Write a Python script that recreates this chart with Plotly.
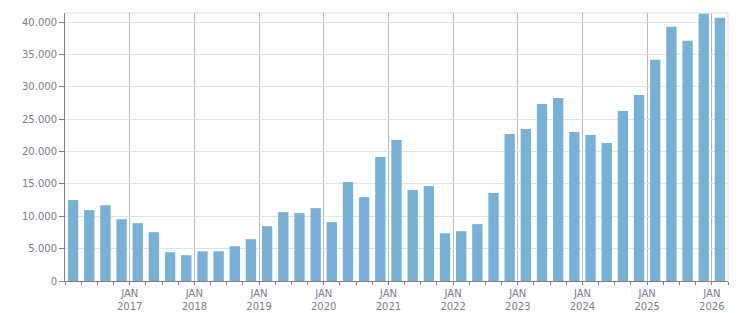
import plotly.graph_objects as go

quarters = [
    "2016-Q1", "2016-Q2", "2016-Q3", "2016-Q4",
    "2017-Q1", "2017-Q2", "2017-Q3", "2017-Q4",
    "2018-Q1", "2018-Q2", "2018-Q3", "2018-Q4",
    "2019-Q1", "2019-Q2", "2019-Q3", "2019-Q4",
    "2020-Q1", "2020-Q2", "2020-Q3", "2020-Q4",
    "2021-Q1", "2021-Q2", "2021-Q3", "2021-Q4",
    "2022-Q1", "2022-Q2", "2022-Q3", "2022-Q4",
    "2023-Q1", "2023-Q2", "2023-Q3", "2023-Q4",
    "2024-Q1", "2024-Q2", "2024-Q3", "2024-Q4",
    "2025-Q1", "2025-Q2", "2025-Q3", "2025-Q4",
    "2026-Q1",
]
values = [
    12500, 10950, 11700, 9550,
    8930, 7540, 4440, 3980,
    4600, 4600, 5370, 6460,
    8470, 10630, 10480, 11250,
    9090, 15280, 12960, 19150,
    21780, 14040, 14660, 7380,
    7690, 8780, 13580, 22710,
    23480, 27350, 28280, 23020,
    22550, 21320, 26270, 28750,
    34160, 39270, 37100, 41280,
    40670,
]
tick_years = [2017, 2018, 2019, 2020, 2021, 2022, 2023, 2024, 2025, 2026]
tick_labels = ["JAN<br>%d" % y for y in tick_years]
y_ticks = [0, 5000, 10000, 15000, 20000, 25000, 30000, 35000, 40000]

# quarter midpoints in fractional years
x_pos = [int(q[:4]) + (int(q[-1]) - 0.5) / 4 for q in quarters]

label_color = "#7a7a92"
font_family = "DejaVu Sans, Liberation Sans, sans-serif"

fig = go.Figure(
    go.Bar(
        x=x_pos,
        y=values,
        marker=dict(color="#78b1d3", line=dict(width=0)),
        width=0.25 * 0.64,
    )
)

fig.update_layout(
    width=751,
    height=313,
    margin=dict(l=65, r=23, t=13, b=32, autoexpand=False),
    paper_bgcolor="white",
    plot_bgcolor="white",
    separators=",.",
    showlegend=False,
    font=dict(family=font_family, size=10, color=label_color),
    xaxis=dict(
        range=[2016.0, 2026.25],
        tickvals=tick_years,
        ticktext=tick_labels,
        automargin=False,
        showgrid=True,
        gridcolor="#b9b9b9",
        gridwidth=1,
        showline=True,
        linecolor="#7f7f7f",
        linewidth=1,
        ticks="outside",
        ticklen=3,
        tickcolor="#7f7f7f",
        tickfont=dict(family=font_family, size=10, color=label_color),
        minor=dict(dtick=0.25, tick0=2016, ticks="outside", ticklen=3,
                   tickcolor="#7f7f7f", showgrid=False),
        zeroline=False,
        fixedrange=True,
    ),
    yaxis=dict(
        range=[0, 41400],
        tickvals=y_ticks,
        tickformat=",d",
        automargin=False,
        showgrid=True,
        gridcolor="#e2e2e2",
        gridwidth=1,
        showline=True,
        linecolor="#7f7f7f",
        linewidth=1,
        ticks="outside",
        ticklen=5,
        tickcolor="#7f7f7f",
        tickfont=dict(family=font_family, size=10, color=label_color),
        zeroline=False,
        fixedrange=True,
    ),
    shapes=[
        dict(type="line", xref="paper", yref="paper", x0=0, x1=1, y0=1, y1=1,
             line=dict(color="#dcdcdc", width=1), layer="below"),
        dict(type="line", xref="paper", yref="paper", x0=1, x1=1, y0=0, y1=1,
             line=dict(color="#dcdcdc", width=1), layer="below"),
    ],
)

fig.write_html("out.html")
